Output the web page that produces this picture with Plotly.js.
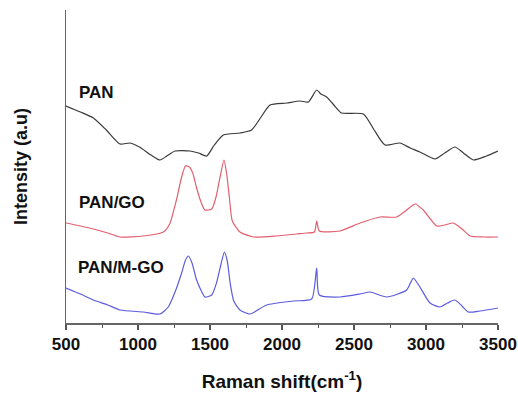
<!DOCTYPE html>
<html><head><meta charset="utf-8">
<script src="https://cdn.plot.ly/plotly-3.0.1.min.js"></script>
<style>html,body{margin:0;padding:0;background:#fff}#chart{width:518px;height:399px}</style>
</head><body><div id="chart"></div>
<script>
// Raman shift (cm^-1) and relative intensity (offset, a.u.)
const panX = [500,600,690,780,875,944,1010,1090,1153,1200,1257,1361,1420,1477,1530,1593,1708,1789,1850,1917,2032,2125,2183,2241,2270,2310,2360,2414,2565,2640,2715,2819,2890,2958,3063,3130,3201,3260,3329,3420,3500];
const panY = [217,211,205,193,179,180,176,168,163,167,172,172,170,167,178,188,190,193,205,218,220,222,221,233,229,226,218,210,209,193,178,180,175,171,164,170,176,170,163,167,172];

const goX = [500,600,690,790,875,1037,1176,1220,1265,1303,1330,1356,1380,1407,1440,1465,1512,1540,1570,1597,1615,1635,1655,1708,1801,1963,2100,2171,2225,2241,2259,2403,2542,2681,2796,2866,2910,2931,2955,2981,3030,3074,3130,3190,3250,3306,3400,3500];
const goY = [100,97,94,90,86,87,91,99,122,146,157,156,150,135,120,113,114,125,146,163,150,125,102,91,86,87,89,90,91,102,92,92,100,106,106,113,118,119,116,113,104,97,98,100,94,87,86,86];

const mgoX = [500,600,690,790,875,1037,1153,1210,1260,1303,1330,1350,1375,1407,1440,1465,1512,1545,1575,1600,1620,1640,1665,1708,1778,1893,2079,2206,2241,2259,2403,2542,2611,2727,2866,2895,2912,2935,2958,3028,3097,3150,3201,3250,3294,3375,3500];
const mgoY = [35,29,23,18,13,11,9,16,32,50,63,67,60,43,32,26,28,40,58,71,62,40,22,13,9,18,22,24,55,28,26,29,31,26,33,41,45,41,36,20,16,20,23,17,11,12,15];

const labels = ['PAN','PAN/GO','PAN/M-GO'];
const labelX = [577,577,572];
const labelY = [231,121,56];

const xTicks = [500,1000,1500,2000,2500,3000,3500];

const traces = [
  {x: panX, y: panY, mode:'lines', line:{color:'#3a3a3a', width:1.2, shape:'spline', smoothing:0.6}, name:labels[0]},
  {x: goX, y: goY, mode:'lines', line:{color:'#e0606e', width:1.2, shape:'spline', smoothing:0.6}, name:labels[1]},
  {x: mgoX, y: mgoY, mode:'lines', line:{color:'#5c5cdc', width:1.2, shape:'spline', smoothing:0.6}, name:labels[2]}
];

const annotations = labels.map((t,i)=>({
  x: labelX[i], y: labelY[i], xref:'x', yref:'y', text:'<b>'+t+'</b>', showarrow:false,
  xanchor:'left', yanchor:'middle', font:{family:'Liberation Sans, Arial, sans-serif', size:17, color:'#111'}
}));

const layout = {
  width:518, height:399,
  margin:{l:66, r:20, t:10, b:76},
  paper_bgcolor:'#fff', plot_bgcolor:'#fff',
  showlegend:false,
  font:{family:'Liberation Sans, Arial, sans-serif', color:'#111'},
  xaxis:{
    range:[500,3500], tickvals:xTicks, ticktext:xTicks.map(v=>'<b>'+v+'</b>'),
    ticks:'outside', ticklen:5, tickwidth:1.2, tickcolor:'#555',
    minor:{dtick:250, tick0:500, ticks:'outside', ticklen:3, tickcolor:'#555', tickwidth:1},
    showline:true, linecolor:'#666', linewidth:1.5, showgrid:false, zeroline:false,
    tickfont:{size:17, color:'#111'},
    title:{text:'<b>Raman shift(cm<sup>-1</sup>)</b>', font:{size:19, color:'#111'}, standoff:22}
  },
  yaxis:{
    range:[0,313], showticklabels:false, ticks:'', showline:true, linecolor:'#666', linewidth:1.5,
    showgrid:false, zeroline:false,
    title:{text:'<b>Intensity (a.u)</b>', font:{size:18, color:'#111'}, standoff:32}
  },
  annotations: annotations
};

Plotly.newPlot('chart', traces, layout, {staticPlot:true, displayModeBar:false});
</script></body></html>
